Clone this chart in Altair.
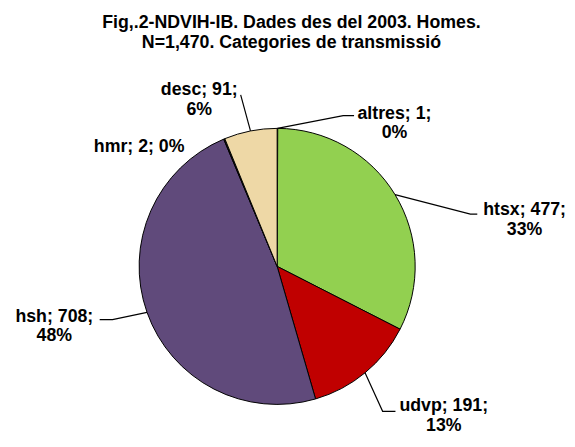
import altair as alt
import pandas as pd
import numpy as np

# ---- data ----
categories = ["altres", "htsx", "udvp", "hsh", "hmr", "desc"]
values = [1, 477, 191, 708, 2, 91]
percents = [0, 33, 13, 48, 0, 6]
title_lines = ["Fig,.2-NDVIH-IB. Dades des del 2003. Homes.",
               "N=1,470. Categories de transmissió"]

# ---- styles ----
colors = ["#4F81BD", "#92D050", "#C00000", "#604A7B", "#111111", "#EED8A6"]
FONT = "Liberation Sans"

# ---- layout (pixels relative to pie centre, y pointing down) ----
R = 140
label_dx = [119, 251, 169, -226, -140, -79]
label_dy = [-150, -52, 147, 56, -116, -174]
elbow_dx = [67, 196, 107, -167, None, -37]
elbow_dy = [-153, -53, 147, 54, None, -174]
end_dx = [78, 203, 120, -180, None, -37]
end_dy = [-153, -53, 147, 54, None, -174]

W, H = 559, 381
CX, CY = 273, 209  # pie centre inside the view
xscale = alt.Scale(domain=[-CX, W - CX], nice=False, zero=False)
yscale = alt.Scale(domain=[-CY, H - CY], nice=False, zero=False, reverse=True)

# pie slices
pie_df = pd.DataFrame({
    "cat": categories,
    "value": values,
    "ord": list(range(len(categories))),
    "cx": 0,
    "cy": 0,
})

pie = alt.Chart(pie_df).mark_arc(radius=R, stroke="black", strokeWidth=1).encode(
    theta=alt.Theta("value:Q", stack=True),
    order=alt.Order("ord:Q"),
    color=alt.Color("cat:N", scale=alt.Scale(domain=categories, range=colors), legend=None),
    x=alt.X("cx:Q", scale=xscale, axis=None),
    y=alt.Y("cy:Q", scale=yscale, axis=None),
)

# leader lines: start on the rim at each slice's mid angle
total = sum(values)
cum = np.cumsum([0] + values)
rows = []
for i, c in enumerate(categories):
    if elbow_dx[i] is None:
        continue
    mid = (cum[i] + cum[i + 1]) / 2 / total * 2 * np.pi
    sx, sy = R * np.sin(mid), -R * np.cos(mid)
    rows.append({"cat": c, "seq": 0, "x": sx, "y": sy})
    rows.append({"cat": c, "seq": 1, "x": elbow_dx[i], "y": elbow_dy[i]})
    rows.append({"cat": c, "seq": 2, "x": end_dx[i], "y": end_dy[i]})
lead_df = pd.DataFrame(rows)

leaders = alt.Chart(lead_df).mark_line(color="black", strokeWidth=1.2).encode(
    x=alt.X("x:Q", scale=xscale, axis=None),
    y=alt.Y("y:Q", scale=yscale, axis=None),
    detail="cat:N",
    order="seq:Q",
)

# labels
texts = []
for c, v, p in zip(categories, values, percents):
    if c == "hmr":
        texts.append([f"{c}; {v}; {p}%"])
    else:
        texts.append([f"{c}; {v};", f"{p}%"])
lab_df = pd.DataFrame({"cat": categories, "x": label_dx, "y": label_dy, "text": texts})

labels = alt.Chart(lab_df).mark_text(
    font=FONT, fontSize=18, fontWeight="bold", color="black",
    align="center", baseline="alphabetic", lineHeight=20,
).encode(
    x=alt.X("x:Q", scale=xscale, axis=None),
    y=alt.Y("y:Q", scale=yscale, axis=None),
    text="text",
)

chart = alt.layer(pie, leaders, labels).properties(
    width=W,
    height=H,
    autosize=alt.AutoSizeParams(type="none"),
    padding={"left": 0, "top": 50, "right": 8, "bottom": 0},
    title=alt.TitleParams(
        text=title_lines, font=FONT, fontSize=18, fontWeight="bold",
        lineHeight=20, color="black", anchor="middle", frame="group",
        dx=8, offset=9,
    ),
).configure_view(stroke=None)

chart.save("out.html", embed_options={"renderer": "svg", "actions": False})
